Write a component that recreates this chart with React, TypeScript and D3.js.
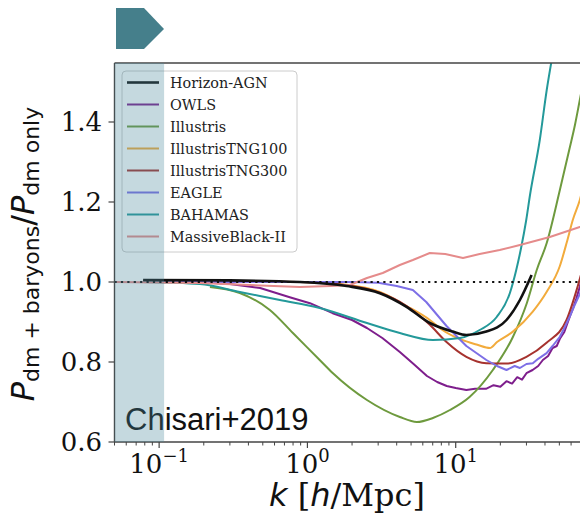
import React from 'react';
import * as d3 from 'd3';

const W = 580;
const H = 516;

const seriesNames = ['Horizon-AGN', 'OWLS', 'Illustris', 'IllustrisTNG100', 'IllustrisTNG300', 'EAGLE', 'BAHAMAS', 'MassiveBlack-II'];
const seriesColors = ['#111111', '#7e1e8c', '#6e9a3e', '#f2ab3c', '#a6322e', '#7d6fe6', '#24999a', '#e58b8b'];

const xTicks = [0.1, 1, 10];
const xTickExps = ['\u22121', '0', '1'];
const yTicks = [0.6, 0.8, 1.0, 1.2, 1.4];
const bandK = [0.05, 0.108];

type P = [number, number];

const horizonAGN: P[] = [[0.078, 1.005], [0.3, 1.004], [0.89, 1.0], [1.84, 0.99], [3.08, 0.972], [4.66, 0.938], [6.69, 0.8975], [9.56, 0.876], [11.8, 0.8675], [16.1, 0.876], [22.0, 0.905], [27.1, 0.955], [32.5, 1.0175]];

const owls: P[] = [[0.078, 1.0], [0.15, 1.0], [0.22, 0.998], [0.3, 0.995], [0.48, 0.985], [0.76, 0.962], [1.04, 0.947], [1.48, 0.922], [2.0, 0.905], [2.52, 0.885], [3.2, 0.86], [4.2, 0.825], [5.2, 0.795], [6.4, 0.765], [7.5, 0.75], [8.7, 0.74], [10, 0.735], [11.8, 0.73], [13.5, 0.733], [16, 0.733], [18, 0.742], [20, 0.738], [22, 0.752], [24, 0.746], [26, 0.762], [28, 0.756], [30, 0.772], [33, 0.78], [36, 0.79], [38.7, 0.805], [42, 0.815], [45, 0.835], [48, 0.84], [50.4, 0.858], [54, 0.875], [58.7, 0.913], [62, 0.935], [65, 0.958], [68.7, 0.988], [74, 1.04], [80, 1.1]];

const illustris: P[] = [[0.22, 0.9875], [0.35, 0.9725], [0.558, 0.93], [0.798, 0.8725], [1.21, 0.805], [1.48, 0.7725], [2.52, 0.705], [4.2, 0.6625], [5.47, 0.65], [7.02, 0.66], [9.14, 0.68], [12.4, 0.7125], [17.8, 0.78], [24.3, 0.8625], [30.2, 0.9475], [35.2, 1.03], [41.1, 1.0975], [50.4, 1.23], [58.7, 1.335], [63.7, 1.3925], [68.7, 1.455], [74, 1.5175]];

const tng100: P[] = [[0.078, 1.003], [0.89, 1.0], [1.84, 0.993], [3.08, 0.975], [4.66, 0.94], [6.69, 0.905], [8, 0.882], [10.7, 0.857], [14, 0.843], [17, 0.835], [19, 0.85], [24.3, 0.876], [33.1, 0.926], [41, 0.975], [50.4, 1.04], [56.2, 1.1], [61.6, 1.155], [68.7, 1.205], [75, 1.26]];

const tng300: P[] = [[0.078, 1.003], [0.89, 1.0], [1.84, 0.992], [3.08, 0.973], [4.66, 0.94], [6.69, 0.893], [8.67, 0.85], [11.8, 0.813], [16.1, 0.797], [22, 0.796], [30, 0.813], [41, 0.848], [55.9, 0.905], [66.6, 0.99], [80, 1.1]];

const eagle: P[] = [[0.078, 1.0], [1, 1.0], [2, 1.0], [3, 0.998], [4, 0.99], [5.14, 0.98], [6.33, 0.95], [8.67, 0.89], [11.8, 0.84], [16.1, 0.805], [19, 0.79], [22, 0.78], [25, 0.79], [27.1, 0.785], [30, 0.795], [33.1, 0.797], [36, 0.808], [41, 0.822], [45, 0.84], [50.4, 0.863], [54, 0.885], [58.7, 0.913], [63, 0.94], [68.7, 0.97], [80, 1.05]];

const bahamas: P[] = [[0.078, 1.0], [0.188, 0.995], [0.35, 0.975], [0.652, 0.955], [1.21, 0.935], [2.52, 0.8975], [4.2, 0.8725], [7.02, 0.855], [10.7, 0.86], [14.5, 0.88], [18.9, 0.9125], [23.2, 0.9725], [25.6, 1.03], [27.6, 1.085], [29.9, 1.155], [31.7, 1.2175], [36.9, 1.355], [41.1, 1.48], [44.4, 1.555]];

const massiveBlack: P[] = [[0.05, 1.0], [0.188, 0.9975], [0.409, 0.9925], [0.889, 0.9875], [1.43, 0.99], [1.93, 0.9925], [2.52, 1.01], [3.22, 1.0225], [4.2, 1.0425], [5.14, 1.055], [6.69, 1.0725], [8.5, 1.07], [11.2, 1.06], [14.5, 1.07], [19.8, 1.08], [27.1, 1.0925], [43.1, 1.1125], [68.7, 1.1375], [80, 1.145]];

const seriesData: P[][] = [horizonAGN, owls, illustris, tng100, tng300, eagle, bahamas, massiveBlack];

export default function App() {
  const x = d3.scaleLog().domain([0.05, 90]).range([114.5, 597.2]);
  const y = d3.scaleLinear().domain([0.6, 1.5475]).range([442, 63]);
  const left = x(0.05);
  const bottom = y(0.6);
  const top = y(1.5475);

  const lineSmooth = d3.line<P>().x(d => x(d[0])).y(d => y(d[1])).curve(d3.curveMonotoneX);
  const lineRaw = d3.line<P>().x(d => x(d[0])).y(d => y(d[1]));

  const minor: number[] = [];
  [0.01, 0.1, 1, 10].forEach(dec => {
    for (let m = 2; m <= 9; m++) {
      const v = m * dec;
      if (v >= 0.05 && x(v) <= W) minor.push(v);
    }
  });

  const drawOrder = [1, 2, 3, 4, 5, 6, 7, 0];

  return (
    <svg width={W} height={H} style={{ position: 'absolute', left: 0, top: 0 }}>
      <rect x={0} y={0} width={W} height={H} fill="#ffffff" />
      <polygon points="116,8 144,8 164,29 144,49 116,49" fill="#457f8b" />
      <defs>
        <clipPath id="plotclip">
          <rect x={left} y={top} width={W - left} height={bottom - top} />
        </clipPath>
      </defs>
      <g clipPath="url(#plotclip)">
        {drawOrder.map(i => (
          <path key={i} d={(i === 1 || i === 5 || i === 7 ? lineRaw : lineSmooth)(seriesData[i]) || ''}
            fill="none" stroke={seriesColors[i]} strokeWidth={i === 0 ? 2.6 : 2} strokeLinejoin="round" />
        ))}
        <line x1={left} x2={W} y1={y(1)} y2={y(1)} stroke="#111" strokeWidth={2.2} strokeDasharray="2.2 4.2" />
      </g>
      {/* legend */}
      <rect x={122} y={71} width={175} height={181} rx={4} fill="#ffffff" fillOpacity={0.85} stroke="#cccccc" strokeWidth={1} />
      {seriesNames.map((n, i) => (
        <g key={n}>
          <line x1={127} x2={159} y1={82.5 + i * 22} y2={82.5 + i * 22} stroke={seriesColors[i]} strokeWidth={i === 0 ? 2.6 : 2} />
          <text x={170} y={82.5 + i * 22} dy="0.35em" fontFamily="DejaVu Serif" fontSize={14.4} fill="#222">{n}</text>
        </g>
      ))}
      <text x={125} y={430} fontFamily="Liberation Sans, Arial" fontSize={31} fill="#111">Chisari+2019</text>
      {/* spines */}
      <line x1={left} x2={W} y1={top} y2={top} stroke="#444" strokeWidth={1.4} />
      <line x1={left} x2={W} y1={bottom} y2={bottom} stroke="#444" strokeWidth={1.4} />
      <line x1={left} x2={left} y1={top} y2={bottom} stroke="#444" strokeWidth={1.4} />
      {/* x ticks */}
      {xTicks.map((t, i) => (
        <g key={t}>
          <line x1={x(t)} x2={x(t)} y1={bottom} y2={bottom + 6} stroke="#444" strokeWidth={1.2} />
          <text x={x(t)} y={473} textAnchor="middle" fontFamily="DejaVu Serif" fontSize={26} fill="#111">
            10<tspan fontSize={18} dy={-11}>{xTickExps[i]}</tspan>
          </text>
        </g>
      ))}
      {minor.map(t => (
        <line key={t} x1={x(t)} x2={x(t)} y1={bottom} y2={bottom + 3.5} stroke="#444" strokeWidth={1} />
      ))}
      {/* y ticks */}
      {yTicks.map(t => (
        <g key={t}>
          <line x1={left - 6} x2={left} y1={y(t)} y2={y(t)} stroke="#444" strokeWidth={1.2} />
          <text x={102} y={y(t)} dy="0.36em" textAnchor="end" fontFamily="DejaVu Serif" fontSize={26} fill="#111">{t.toFixed(1)}</text>
        </g>
      ))}
      {/* axis labels */}
      <text x={347} y={506} textAnchor="middle" fontSize={32} fill="#111">
        <tspan fontFamily="DejaVu Sans" fontStyle="italic">k</tspan>
        <tspan fontFamily="DejaVu Serif"> [</tspan>
        <tspan fontFamily="DejaVu Sans" fontStyle="italic">h</tspan>
        <tspan fontFamily="DejaVu Serif">/Mpc]</tspan>
      </text>
      <text transform="translate(34,254) rotate(-90)" textAnchor="middle" fontFamily="DejaVu Sans" fontSize={32} fill="#111">
        <tspan fontStyle="italic">P</tspan>
        <tspan fontSize={22} dy={5}>dm + baryons</tspan>
        <tspan dy={-5}>/</tspan>
        <tspan fontStyle="italic">P</tspan>
        <tspan fontSize={22} dy={5}>dm only</tspan>
      </text>
      {/* shaded band overlay */}
      <rect x={x(bandK[0])} y={top} width={x(bandK[1]) - x(bandK[0])} height={bottom - top} fill="#4a8a9c" fillOpacity={0.32} />
    </svg>
  );
}
